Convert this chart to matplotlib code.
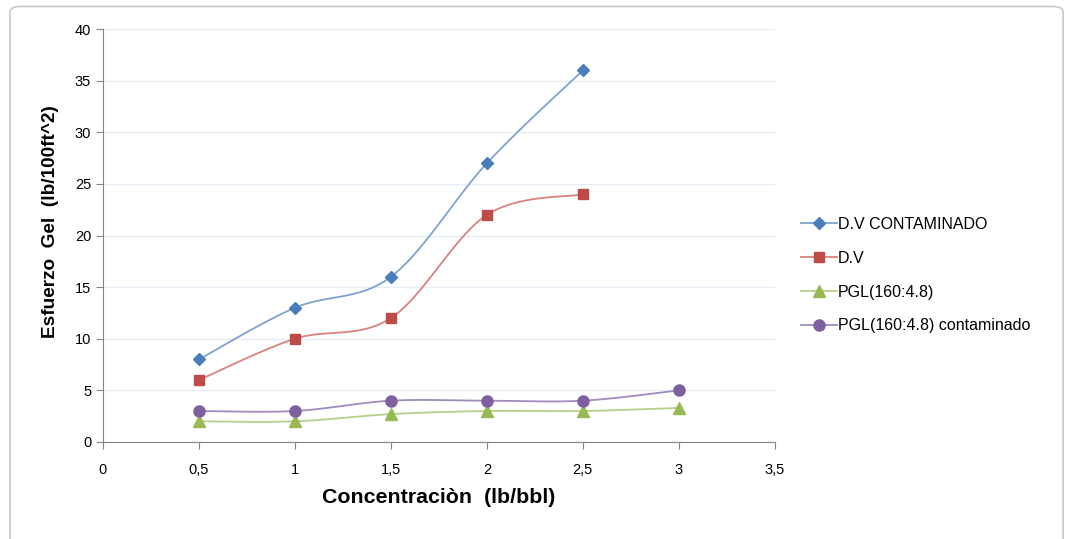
import numpy as np
import matplotlib
matplotlib.use("Agg")
import matplotlib.pyplot as plt
from matplotlib.patches import FancyBboxPatch

plt.rcParams["font.family"] = ["Liberation Sans", "DejaVu Sans"]

conc = [0.5, 1, 1.5, 2, 2.5, 3]
dv_cont = [8, 13, 16, 27, 36]
dv = [6, 10, 12, 22, 24]
pgl = [2, 2, 2.7, 3, 3, 3.3]
pgl_cont = [3, 3, 4, 4, 4, 5]

series = [
    ("D.V CONTAMINADO", dv_cont, "#4A7EBB", "#7FA3D1", "D", 6),
    ("D.V", dv, "#BE4B48", "#D9827F", "s", 7),
    ("PGL(160:4.8)", pgl, "#98B954", "#B5D08A", "^", 8),
    ("PGL(160:4.8) contaminado", pgl_cont, "#7D60A0", "#A08BBE", "o", 8),
]


def smooth(x, y, n=30):
    # Bezier segments with Catmull-Rom style control points
    x = np.asarray(x, float)
    y = np.asarray(y, float)
    px = np.concatenate([[x[0]], x, [x[-1]]])
    py = np.concatenate([[y[0]], y, [y[-1]]])
    xs, ys = [], []
    t = np.linspace(0, 1, n)
    for i in range(1, len(x)):
        p0 = np.array([px[i], py[i]])
        p3 = np.array([px[i + 1], py[i + 1]])
        c1 = p0 + (p3 - np.array([px[i - 1], py[i - 1]])) / 6
        c2 = p3 - (np.array([px[i + 2], py[i + 2]]) - p0) / 6
        b = ((1 - t) ** 3)[:, None] * p0 + (3 * (1 - t) ** 2 * t)[:, None] * c1 \
            + (3 * (1 - t) * t ** 2)[:, None] * c2 + (t ** 3)[:, None] * p3
        xs.append(b[:, 0])
        ys.append(b[:, 1])
    return np.concatenate(xs), np.concatenate(ys)


fig = plt.figure(figsize=(10.68, 5.39), dpi=100)
# chart frame, bottom edge runs past the canvas
fig.patches.append(FancyBboxPatch((0.0094, -0.05), 0.986, 1.038,
                                  boxstyle="round,pad=0,rounding_size=0.01",
                                  transform=fig.transFigure, fill=False,
                                  edgecolor="#C8C8C8", linewidth=1.2))
ax = fig.add_axes([0.0964, 0.18, 0.629, 0.766])

handles = []
for name, vals, mc, lc, mk, ms in series:
    xv = conc[:len(vals)]
    sx, sy = smooth(xv, vals)
    ax.plot(sx, sy, color=lc, linewidth=1.3, zorder=2)
    ax.plot(xv, vals, linestyle="none", marker=mk, markersize=ms,
            color=mc, markeredgecolor=mc, zorder=3)
    h, = ax.plot([], [], color=lc, linewidth=1.3, marker=mk, markersize=ms,
                 markerfacecolor=mc, markeredgecolor=mc, label=name)
    handles.append(h)

ax.set_xlim(0, 3.5)
ax.set_ylim(0, 40)
ax.set_xticks(np.arange(0, 3.51, 0.5))
ax.set_yticks(np.arange(0, 41, 5))
ax.set_xticklabels(["0", "0,5", "1", "1,5", "2", "2,5", "3", "3,5"])
ax.yaxis.grid(True, color="#E6EDF6", linewidth=1)
ax.set_axisbelow(True)
for s in ["top", "right"]:
    ax.spines[s].set_visible(False)
for s in ["left", "bottom"]:
    ax.spines[s].set_color("#868686")
ax.tick_params(axis="both", colors="#868686", labelcolor="black",
               labelsize=10.5, length=5, direction="out")
ax.tick_params(axis="x", pad=10)

ax.set_xlabel("Concentraciòn  (lb/bbl)", fontsize=15.4, fontweight="bold")
ax.set_ylabel("Esfuerzo  Gel  (lb/100ft^2)", fontsize=13.7, fontweight="bold")
ax.xaxis.set_label_coords(0.5, -0.112)
ax.yaxis.set_label_coords(-0.066, 0.533)

fig.legend(handles=handles, loc="center left", bbox_to_anchor=(0.737, 0.4895),
           frameon=False, fontsize=11.5, handlelength=2.2, handletextpad=0.1,
           labelspacing=1.18)

fig.savefig("out.png", dpi=100, facecolor="white")
